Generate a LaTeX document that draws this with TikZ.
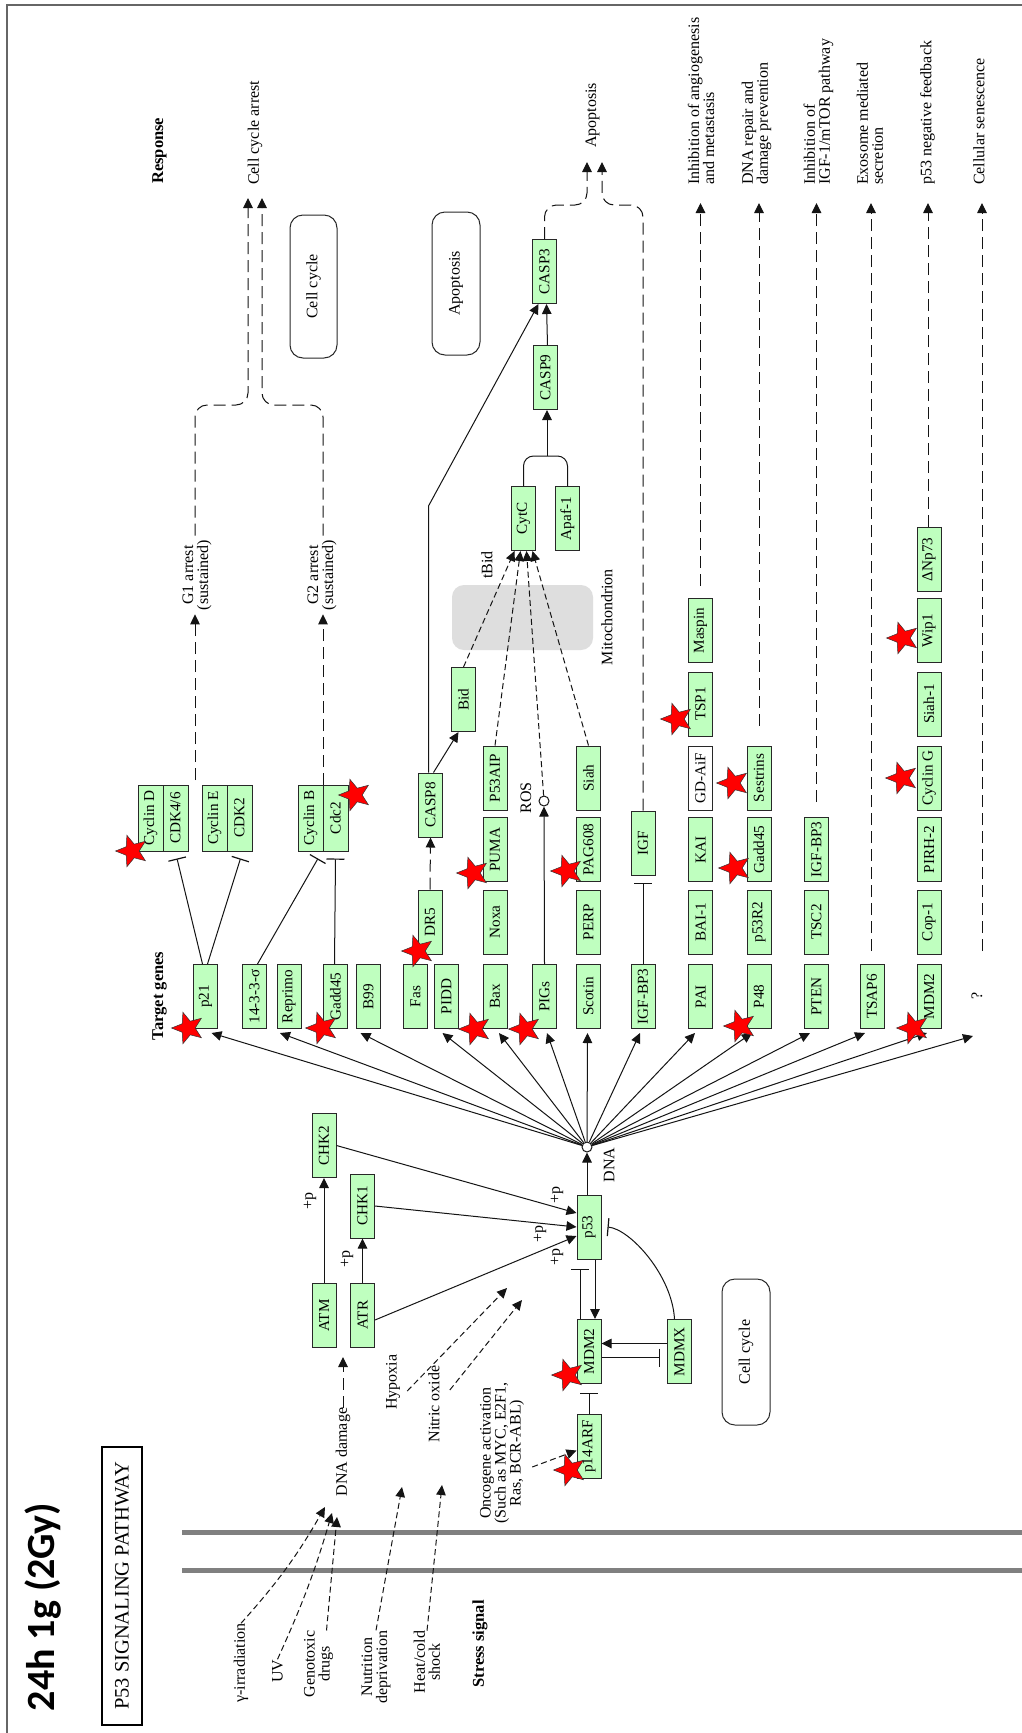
\documentclass[tikz,border=0pt]{standalone}
\usepackage{fontspec}
\setmainfont{Liberation Serif}
\newfontfamily\ttlfont{Carlito}
\usetikzlibrary{arrows.meta,shapes.geometric,calc}
\definecolor{kgreen}{RGB}{191,255,191}
\definecolor{kline}{RGB}{20,20,20}
\definecolor{kbrd}{RGB}{40,40,40}
\newcommand\kgfont{\fontsize{15.2}{15}\selectfont}
\newcommand\klfont{\fontsize{16}{15}\selectfont}
\newcommand\kbfont{\fontsize{16.5}{15}\selectfont\bfseries}
\begin{document}
\begin{tikzpicture}[x=1pt,y=-1pt,
  gene/.style={draw=kbrd,line width=1pt,fill=kgreen,rotate=90,minimum width=64pt,minimum height=24pt,inner sep=0pt,font=\kgfont},
  lab/.style={rotate=90,inner sep=0pt,font=\klfont},
  blab/.style={rotate=90,inner sep=0pt,font=\kbfont},
  arr/.style={draw=kline,line width=1pt,-{Triangle[length=10pt,width=9.5pt]}},
  inh/.style={draw=kline,line width=1pt,-{Bar[width=18pt,line width=1.2pt]}},
  pln/.style={draw=kline,line width=1pt},
  dsh/.style={dash pattern=on 12pt off 6pt},
  sdsh/.style={dash pattern=on 6pt off 3.5pt},
  kstar/.style={star,star points=5,star point ratio=2.3,minimum size=33pt,inner sep=0pt,fill=red,draw=black!80,line width=0.5pt,rotate=90},
  catbox/.style={draw=kbrd,line width=1pt,rounded corners=13pt,fill=white,rotate=90,inner sep=0pt,font=\klfont},
]
\useasboundingbox (0,0) rectangle (1021,1733);
\fill[white] (0,0) rectangle (1021,1733);
\draw[black!60,line width=1.2pt] (7,1740) -- (7,5) -- (1030,5);

% membrane
\draw[black!50,line width=5pt] (182,1532) -- (1025,1532);
\draw[black!50,line width=5pt] (182,1570) -- (1025,1570);

% title
\node[rotate=90,inner sep=0pt,font=\ttlfont\bfseries\fontsize{40}{42}\selectfont] (title) at (43.5,1607) {24h 1g (2Gy)};
\node[rotate=90,draw=black,line width=2pt,minimum width=278pt,minimum height=40pt,inner sep=0pt,font=\fontsize{20.5}{22}\selectfont] (pbox) at (122,1586) {P53 SIGNALING PATHWAY};

% category boxes
\node[catbox,minimum width=143pt,minimum height=47pt] (cc1) at (313.5,286.5) {Cell cycle};
\node[catbox,minimum width=143pt,minimum height=48pt] (apo) at (456,283.5) {Apoptosis};
\node[catbox,minimum width=146pt,minimum height=48pt] (cc2) at (746,1352) {Cell cycle};
\node[fill=black!13,rounded corners=12pt,minimum width=141pt,minimum height=65pt,inner sep=0pt] (mito) at (522.5,617.5) {};

% labels
\node[blab,anchor=west] (resp) at (159.5,184) {Response};
\node[blab] (tgt) at (159.5,996) {Target genes};
\node[blab] (stress) at (480,1644) {Stress signal};
\node[lab,anchor=west] (cca) at (255,185) {Cell cycle arrest};
\node[lab,anchor=west] (apol) at (592.5,148) {Apoptosis};
\node[lab,align=center] (g1) at (197,575) {G1 arrest\\(sustained)};
\node[lab,align=center] (g2) at (322,575) {G2 arrest\\(sustained)};
\node[lab,anchor=west,align=left] (r1) at (701,185) {Inhibition of angiogenesis\\and metastasis};
\node[lab,anchor=west,align=left] (r2) at (756.5,185) {DNA repair and\\damage prevention};
\node[lab,anchor=west,align=left] (r3) at (818.5,185) {Inhibition of\\IGF-1/mTOR pathway};
\node[lab,anchor=west,align=left] (r4) at (870,185) {Exosome mediated\\secretion};
\node[lab,anchor=west] (r5) at (927.5,185) {p53 negative feedback};
\node[lab,anchor=west] (r6) at (979,185) {Cellular senescence};
\node[lab] (tbid) at (487,565) {tBid};
\node[lab] (mitol) at (607,617) {Mitochondrion};
\node[lab] (rosl) at (526,798) {ROS};
\node[lab] (dnal) at (609,1165) {DNA};
\node[lab] (qm) at (977,996) {?};
\node[lab] (p1) at (310,1201) {+p};
\node[lab] (p2) at (347,1259) {+p};
\node[lab] (p3) at (557,1195) {+p};
\node[lab] (p4) at (540,1234) {+p};
\node[lab] (p5) at (557,1257) {+p};
\node[lab] (gir) at (241,1663) {γ-irradiation};
\node[lab] (uv) at (277.5,1671) {UV};
\node[lab,align=center] (gtx) at (318.5,1664) {Genotoxic\\drugs};
\node[lab,align=center] (nut) at (376,1667) {Nutrition\\deprivation};
\node[lab,align=center] (heat) at (427,1662) {Heat/cold\\shock};
\node[lab] (hyp) at (393,1382) {Hypoxia};
\node[lab] (nit) at (434,1404) {Nitric oxide};
\node[lab] (dnad) at (343,1452) {DNA damage};
\node[lab,align=center] (onco) at (502,1453) {Oncogene activation\\(Such as MYC, E2F1,\\Ras, BCR-ABL)};

% genes: cyclin complexes
\node[gene,minimum width=66pt,minimum height=25pt] (cycd) at (150.5,818) {Cyclin D};
\node[gene,minimum width=66pt,minimum height=25pt] (cdk46) at (175.5,818) {CDK4/6};
\node[gene,minimum width=66pt,minimum height=25pt] (cyce) at (214.5,818) {Cyclin E};
\node[gene,minimum width=66pt,minimum height=25pt] (cdk2) at (239.5,818) {CDK2};
\node[gene,minimum width=66pt,minimum height=25pt] (cycb) at (310.5,818) {Cyclin B};
\node[gene,minimum width=66pt,minimum height=25pt] (cdc2) at (335.5,818) {Cdc2};
% target row
\node[gene] (p21) at (205.5,996.5) {p21};
\node[gene] (s1433) at (254.5,996.5) {14-3-3-σ};
\node[gene] (reprimo) at (289,996.5) {Reprimo};
\node[gene] (gadd45) at (335.5,996.5) {Gadd45};
\node[gene] (b99) at (368.5,996.5) {B99};
\node[gene] (fas) at (415.5,996.5) {Fas};
\node[gene] (pidd) at (446.5,996.5) {PIDD};
\node[gene] (bax) at (495,996.5) {Bax};
\node[gene] (pigs) at (544.5,996.5) {PIGs};
\node[gene] (scotin) at (588.5,996.5) {Scotin};
\node[gene] (igfbp3) at (643,996.5) {IGF-BP3};
\node[gene] (pai) at (700.5,996.5) {PAI};
\node[gene] (p48) at (759,996.5) {P48};
\node[gene] (pten) at (816.5,996.5) {PTEN};
\node[gene] (tsap6) at (872,996.5) {TSAP6};
\node[gene] (mdm2) at (929,996.5) {MDM2};
% row 2
\node[gene] (dr5) at (430,922) {DR5};
\node[gene] (noxa) at (495,922) {Noxa};
\node[gene] (perp) at (588.5,922) {PERP};
\node[gene] (bai1) at (700.5,922) {BAI-1};
\node[gene] (p53r2) at (759,922) {p53R2};
\node[gene] (tsc2) at (816.5,922) {TSC2};
\node[gene] (cop1) at (929,922) {Cop-1};
% row 3
\node[gene] (casp8) at (430.5,805) {CASP8};
\node[gene] (puma) at (495,849.5) {PUMA};
\node[gene] (pag608) at (588.5,849.5) {PAG608};
\node[gene] (igf) at (643,843) {IGF};
\node[gene] (kai) at (700.5,849.5) {KAI};
\node[gene] (gadd45b) at (759,849.5) {Gadd45};
\node[gene] (igfbp3b) at (816.5,849.5) {IGF-BP3};
\node[gene] (pirh2) at (929,849.5) {PIRH-2};
% row 4
\node[gene] (p53aip) at (495,778) {P53AIP};
\node[gene] (siah) at (588.5,778) {Siah};
\node[gene,fill=white] (gdaif) at (700.5,778) {GD-AiF};
\node[gene] (sestrins) at (759,778) {Sestrins};
\node[gene] (cycg) at (929,778) {Cyclin G};
% rows 5-7
\node[gene] (tsp1) at (700.5,704) {TSP1};
\node[gene] (siah1) at (929,704) {Siah-1};
\node[gene] (maspin) at (700.5,630.5) {Maspin};
\node[gene] (wip1) at (929,630.5) {Wip1};
\node[gene] (dnp73) at (929,559.5) {ΔNp73};
% apoptosis chain
\node[gene] (bid) at (463.5,699.5) {Bid};
\node[gene] (cytc) at (523.5,518.5) {CytC};
\node[gene] (apaf) at (567.5,518.5) {Apaf-1};
\node[gene] (casp9) at (545.5,377.5) {CASP9};
\node[gene] (casp3) at (544.5,271.5) {CASP3};
% lower part
\node[gene] (chk2) at (324,1145.5) {CHK2};
\node[gene] (atm) at (324,1315.5) {ATM};
\node[gene] (chk1) at (362.5,1206) {CHK1};
\node[gene] (atr) at (362.5,1315) {ATR};
\node[gene] (p53) at (589,1227) {p53};
\node[gene] (mdm2b) at (589,1351.5) {MDM2};
\node[gene] (mdmx) at (679.5,1351.5) {MDMX};
\node[gene] (p14arf) at (589,1446.5) {p14ARF};

\node[circle,draw=kline,line width=1pt,fill=white,minimum size=10pt,inner sep=0pt] (dna) at (587,1147) {};
\node[circle,draw=kline,line width=1pt,fill=white,minimum size=10pt,inner sep=0pt] (ros) at (544,801) {};

% coordinates
\coordinate (rt) at (0,203);
\coordinate (cca1) at (248,198);
\coordinate (cca2) at (262,198);
\coordinate (apo1) at (587,162);
\coordinate (apo2) at (602,162);
\coordinate (g1s) at (195,780);
\coordinate (g2s) at (323,785);
\coordinate (qtip) at (973,1036);
\coordinate (qtop) at (982,951);
\coordinate (dd1) at (325,1507);
\coordinate (dd2) at (332,1513);
\coordinate (dd3) at (337,1517);
\coordinate (dd4) at (402,1487);
\coordinate (dd5) at (442,1485);
\coordinate (hx) at (507,1288);
\coordinate (nx) at (522,1300);
\coordinate (ddtip) at (343,1357);
\coordinate (cj) at (547,456);

% cell cycle arrest
\draw[arr,dsh,shorten >=4pt] (g1s) -- (g1s |- g1.west);
\draw[arr,dsh,shorten >=4pt] (g2s) -- (g2s |- g2.west);
\draw[arr,dsh,rounded corners=12pt,shorten <=4pt] (g1s |- g1.east) -- (195,405) -- (248,405) -- (cca1);
\draw[arr,dsh,rounded corners=12pt,shorten <=4pt] (g2s |- g2.east) -- (323,405) -- (262,405) -- (cca2);
% apoptosis
\draw[arr,dsh,rounded corners=12pt] (casp3.east) -- (544.5,205) -- (587,205) -- (apo1);
\draw[arr,dsh,rounded corners=12pt] (igf.east) -- (643,205) -- (602,205) -- (apo2);
% response lines
\draw[arr,dsh,shorten <=12pt] (maspin.east) -- (maspin.east |- rt);
\draw[arr,dsh,shorten <=20pt] (sestrins.east) -- (sestrins.east |- rt);
\draw[arr,dsh,shorten <=15pt] (igfbp3b.east) -- (igfbp3b.east |- rt);
\draw[arr,dsh,shorten <=13pt] ([xshift=-1pt]tsap6.east) -- ([xshift=-1pt]tsap6.east |- rt);
\draw[arr,dsh] ([xshift=-1pt]dnp73.east) -- ([xshift=-1pt]dnp73.east |- rt);
\draw[arr,dsh] (qtop) -- (qtop |- rt);

% cyclin inhibition
\draw[inh] ([xshift=-3pt]p21.east) -- ([xshift=1.5pt,yshift=-7pt]cdk46.west);
\draw[inh] ([xshift=2pt]p21.east) -- ([xshift=1pt,yshift=-7pt]cdk2.west);
\draw[inh] ([xshift=3pt]s1433.east) -- ([xshift=7.5pt,yshift=-7pt]cycb.west);
\draw[inh] ([xshift=-1pt]gadd45.east) -- ([xshift=0pt,yshift=-7pt]cdc2.west);

% DNA fan
\foreach \n/\s in {p21/6,reprimo/-9,b99/-8,pidd/-4,bax/4,pigs/2.5,scotin/-1,igfbp3/-3,pai/-5.5,p48/-7,pten/-6.5,tsap6/-7,mdm2/-2}
  \draw[arr] (dna) -- ([xshift=\s pt,yshift=-4pt]\n.west);
\draw[arr] (dna) -- (qtip);

% apoptosis chain
\draw[arr] ([xshift=-2pt]casp8.east) -- (428.5,506) -- ([xshift=-6pt]casp3.west);
\draw[arr] ([xshift=2pt]casp9.east) -- ([xshift=2pt]casp3.west);
\draw[pln,rounded corners=10pt] (cytc.east) -- (523.5,456) -- (567.5,456) -- (apaf.east);
\draw[arr] (cj) -- ([xshift=1.5pt]casp9.west);
\draw[arr,sdsh] (bid.east) -- ([xshift=-9pt]cytc.west);
\draw[arr,sdsh] (p53aip.east) -- ([xshift=-3pt]cytc.west);
\draw[arr,sdsh] (ros) -- ([xshift=3pt]cytc.west);
\draw[arr,sdsh] (siah.east) -- ([xshift=9pt]cytc.west);
\draw[arr,dsh] (dr5.east) -- (casp8.west);
\draw[arr] ([xshift=3pt]casp8.east) -- ([xshift=-5pt]bid.west);
\draw[arr] (pigs.east) -- (ros);
\draw[inh] (igfbp3.east) -- ([yshift=-7pt]igf.west);

% upstream
\draw[arr] (atm.east) -- (chk2.west);
\draw[arr] (atr.east) -- (chk1.west);
\draw[arr] (chk2.south) -- ([yshift=14pt]p53.north);
\draw[arr] (chk1.south) -- (p53.north);
\draw[arr] ([yshift=-5pt]atr.south) -- ([yshift=-9pt]p53.north);
\draw[arr] ([xshift=-2pt]p53.east) -- (dna);
\draw[arr] ([xshift=6pt]p53.west) -- ([xshift=6pt]mdm2b.east);
\draw[inh] ([xshift=-9pt]mdm2b.east) -- ([xshift=-9pt,yshift=-9pt]p53.west);
\draw[arr] ([yshift=8pt]mdmx.north) -- ([yshift=8pt]mdm2b.south);
\draw[inh] ([yshift=-6pt]mdm2b.south) -- ([xshift=-7pt,yshift=-6pt]mdmx.north);
\draw[inh] ([xshift=-5pt]mdmx.east) .. controls (672,1275) and (630,1229) .. ([xshift=6pt]p53.south);
\draw[inh] (p14arf.east) -- ([yshift=-9pt]mdm2b.west);
\draw[arr,sdsh] ([xshift=8pt,yshift=-14pt]onco.south) -- ([yshift=-4pt]p14arf.north);

% stress
\draw[arr,dsh] (dnad.east) -- (ddtip);
\draw[arr,sdsh] (gir.east) to[bend right=6] (dd1);
\draw[arr,sdsh] (uv.east) to[bend right=4] (dd2);
\draw[arr,sdsh] ([xshift=8pt]gtx.east) -- (dd3);
\draw[arr,sdsh] (nut.east) -- (dd4);
\draw[arr,sdsh] (heat.east) -- (dd5);
\draw[arr,sdsh] ([xshift=7pt,yshift=-9pt]hyp.south) -- (hx);
\draw[arr,sdsh] ([xshift=10pt,yshift=14pt]nit.south) -- (nx);

% stars
\foreach \x/\y in {188/1028,132/851,355/795,322/1028,418/951,475/1029,525/1029,473/873,567/871,677/719,740/1026,735/868,733/783,903/638,902/778,913/1028,568/1375,570/1470}
  \node[kstar] at (\x,\y) {};
\end{tikzpicture}
\end{document}
